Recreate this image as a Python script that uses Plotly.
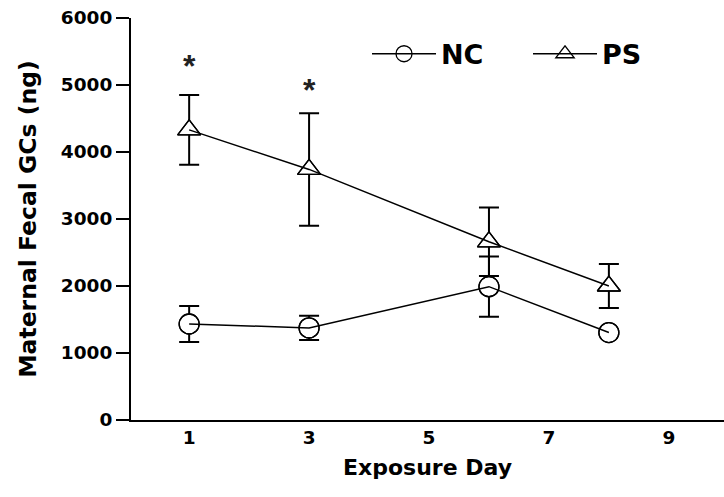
import plotly.graph_objects as go

days_nc = [1, 3, 6, 8]
nc_mean = [1433, 1375, 1990, 1305]
nc_sem = [270, 180, 450, 0]

days_ps = [1, 3, 6, 8]
ps_mean = [4330, 3740, 2660, 2000]
ps_sem = [520, 840, 510, 330]

sig_days = [1, 3]
sig_y = [5280, 4920]

x_ticks = [1, 3, 5, 7, 9]
y_ticks = [0, 1000, 2000, 3000, 4000, 5000, 6000]

FONT = "DejaVu Sans, Liberation Sans, Arial, sans-serif"
STAR_FONT = "Liberation Sans, Arial, sans-serif"
BLACK = "#000000"

fig = go.Figure()

series = [
    ("NC", days_nc, nc_mean, nc_sem, "circle"),
    ("PS", days_ps, ps_mean, ps_sem, "triangle-up"),
]

# error bars (beneath)
for name, x, y, e, sym in series:
    fig.add_trace(go.Scatter(
        x=x, y=y, mode="markers", marker=dict(size=1, color="rgba(0,0,0,0)"),
        error_y=dict(type="data", array=e, visible=True, color=BLACK,
                     thickness=2, width=10),
        showlegend=False, hoverinfo="skip"))

# white-filled markers to hide error bars inside symbols
for name, x, y, e, sym in series:
    fig.add_trace(go.Scatter(
        x=x, y=y, mode="markers",
        marker=dict(symbol=sym, size=20, color="white",
                    line=dict(color=BLACK, width=1.3)),
        showlegend=False, hoverinfo="skip"))

# lines + open markers on top (also legend)
for name, x, y, e, sym in series:
    fig.add_trace(go.Scatter(
        x=x, y=y, mode="lines+markers", name=name,
        line=dict(color=BLACK, width=1.5),
        marker=dict(symbol=sym + "-open", size=20, color=BLACK,
                    line=dict(color=BLACK, width=1.3)),
        showlegend=True))

for d, yv in zip(sig_days, sig_y):
    fig.add_annotation(x=d, y=yv, text="<b>*</b>", showarrow=False,
                       font=dict(size=32, color="#222222", family=STAR_FONT),
                       yanchor="middle")

fig.update_layout(
    width=724, height=497,
    margin=dict(l=131, r=0, t=18, b=77),
    paper_bgcolor="white", plot_bgcolor="white",
    font=dict(family=FONT, color=BLACK),
    legend=dict(orientation="h", x=0.398, y=0.91, xanchor="left", yanchor="middle",
                itemwidth=64, entrywidth=82, entrywidthmode="pixels",
                font=dict(size=27, family=FONT, color=BLACK, weight="bold"),
                bgcolor="rgba(0,0,0,0)"),
    xaxis=dict(range=[0.03, 9.92], tickvals=x_ticks, ticktext=[str(v) for v in x_ticks],
               showgrid=False, zeroline=False, showline=True, linecolor=BLACK, linewidth=2,
               ticks="", tickfont=dict(size=18.5, family=FONT, color=BLACK, weight="bold"),
               title=dict(text="Exposure Day", font=dict(size=22, family=FONT, color=BLACK, weight="bold"),
                          standoff=12)),
    yaxis=dict(range=[0, 6000], tickvals=y_ticks, showgrid=False, zeroline=False,
               showline=True, linecolor=BLACK, linewidth=2, ticks="outside", ticklen=13,
               tickwidth=1.5, tickcolor=BLACK,
               tickfont=dict(size=18.5, family=FONT, color=BLACK, weight="bold"),
               title=dict(text="Maternal Fecal GCs (ng)", font=dict(size=23.5, family=FONT, color=BLACK, weight="bold"),
                          standoff=18)),
)

fig.write_html("out.html")
